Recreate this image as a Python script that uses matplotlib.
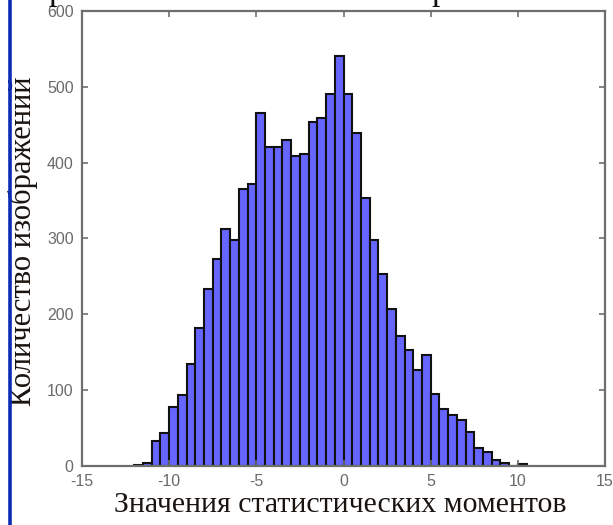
import numpy as np
import matplotlib
matplotlib.use("Agg")
import matplotlib.pyplot as plt
from matplotlib.lines import Line2D
from matplotlib import font_manager

# Histogram of moment values: bin edges (width 0.5) and counts per bin
bin_edges = np.arange(-12.0, 10.5 + 0.25, 0.5)
counts = [1, 4, 33, 44, 78, 93, 135, 182, 233, 273, 312, 298, 365, 372, 466,
          420, 420, 430, 409, 412, 453, 459, 490, 540, 490, 439, 354, 298, 253,
          207, 171, 153, 127, 147, 95, 75, 67, 61, 45, 24, 19, 8, 4, 0, 2]

x_ticks = [-15, -10, -5, 0, 5, 10, 15]
y_ticks = [0, 100, 200, 300, 400, 500, 600]
x_label = "Значения статистических моментов"
y_label = "Количество изображений"


def pick_font(names):
    for n in names:
        try:
            font_manager.findfont(n, fallback_to_default=False)
            return n
        except Exception:
            continue
    return "DejaVu Sans"


tick_font = pick_font(["Liberation Sans Narrow", "Liberation Sans", "Arial"])
label_font = pick_font(["Liberation Serif", "Times New Roman", "DejaVu Serif"])

fig = plt.figure(figsize=(6.13, 5.25), dpi=100)
ax = fig.add_axes([82 / 613, 1 - 466 / 525, (605 - 82) / 613, (466 - 11) / 525])

ax.hist(bin_edges[:-1], bins=bin_edges, weights=counts,
        facecolor="#6666ff", edgecolor="#111111", linewidth=1.5)

ax.set_xlim(-15, 15)
ax.set_ylim(0, 600)
ax.set_xticks(x_ticks)
ax.set_yticks(y_ticks)
ax.set_xticklabels([str(v) for v in x_ticks])
ax.set_yticklabels([str(v) for v in y_ticks])

for s in ax.spines.values():
    s.set_color("#6e6e6e")
    s.set_linewidth(1.6)

ax.tick_params(direction="in", length=4, width=1.2, color="#6e6e6e",
               top=True, right=True, labelsize=11.5, labelcolor="#6a6a6a",
               pad=6)
for lab in ax.get_xticklabels() + ax.get_yticklabels():
    lab.set_fontfamily(tick_font)

ax.set_xlabel(x_label, fontsize=21.5, fontfamily=label_font, color="#1a1410")
ax.xaxis.set_label_coords((340 - 82) / 523, -(492 - 466) / 455)
ax.set_ylabel(y_label, fontsize=22, fontfamily=label_font, color="#1a1410")
ax.yaxis.set_label_coords(-(82 - 38) / 523, 0.493)

# Page margin rule on the left
fig.add_artist(Line2D([10 / 613, 10 / 613], [0, 1], transform=fig.transFigure,
                      color="#0b2db4", linewidth=2.6))

# Descenders of the heading line above the chart
for xp in (57, 440):
    fig.text(xp / 613, 1.0, "р", fontsize=24, fontfamily=label_font,
             ha="center", va="baseline", color="#111111")

fig.savefig("out.png", dpi=100)
